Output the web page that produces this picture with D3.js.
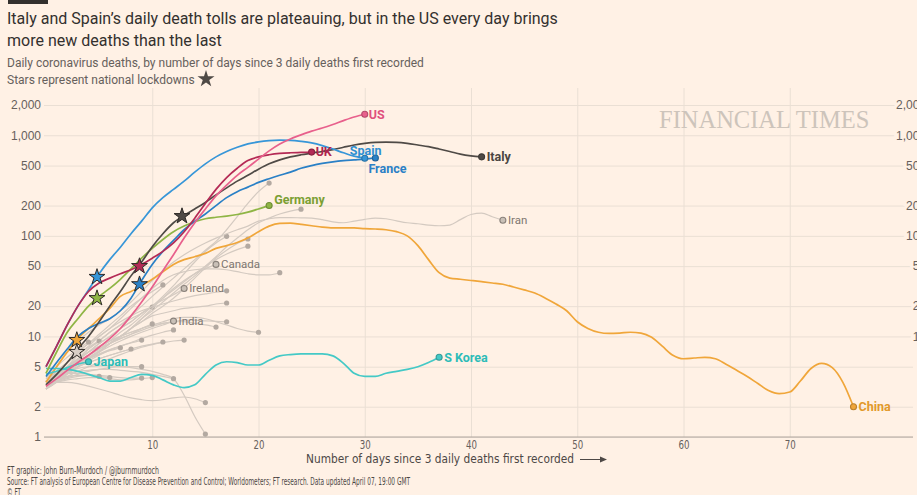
<!DOCTYPE html>
<html>
<head>
<meta charset="utf-8">
<script src="https://cdn.jsdelivr.net/npm/d3@7"></script>
<style>
  body { margin: 0; background: #fff1e5; }
  svg { display: block; font-family: Roboto, "Noto Sans", sans-serif; }
  .narrow { font-family: "Liberation Sans Narrow", "DejaVu Sans Condensed", Roboto, sans-serif; }
</style>
</head>
<body>
<svg class="chart" width="917" height="495"></svg>
<script>
// daily deaths, index = days since 3 daily deaths first recorded
const us = [3.2, 3.8, 4.6, 5.5, 6.5, 7.8, 9.5, 12, 16, 22, 31, 45, 65, 95, 135, 185, 250, 320, 400, 480, 580, 700, 820, 920, 1010, 1100, 1180, 1280, 1400, 1520, 1620]
const uk = [5, 8, 13, 20, 28, 34, 38, 42, 46, 52, 60, 70, 85, 110, 150, 210, 290, 380, 470, 560, 610, 640, 660, 670, 675, 680]
const spain = [5, 8, 13, 20, 29, 42, 58, 77, 105, 140, 190, 240, 290, 350, 430, 520, 610, 690, 760, 820, 860, 885, 895, 890, 870, 840, 790, 730, 670, 620, 590]
const france = [4, 5.5, 7.5, 10, 12, 13.5, 15, 18, 24, 36, 52, 70, 90, 115, 140, 165, 200, 240, 275, 305, 340, 370, 400, 430, 470, 500, 525, 545, 560, 570, 580, 595]
const italy = [3.3, 4.2, 5.5, 7.5, 10, 14, 20, 28, 40, 55, 78, 105, 135, 160, 185, 215, 255, 300, 350, 400, 460, 520, 570, 610, 640, 665, 690, 720, 760, 800, 830, 850, 855, 850, 830, 800, 770, 730, 690, 650, 625, 610]
const germany = [4.3, 7, 11, 15, 20, 25, 30, 37, 47, 60, 75, 92, 110, 125, 138, 148, 153, 157, 163, 172, 185, 200]
const china = [3.5, 5, 7, 9.5, 12, 15, 19, 25, 28, 32, 37, 44, 52, 58, 62, 67, 75, 80, 86, 95, 110, 125, 133, 134, 130, 126, 122, 120, 120, 120, 118, 117, 115, 110, 100, 80, 58, 43, 38, 37, 36, 35, 34, 33, 31, 29, 27, 24, 21, 18, 14, 12, 11, 10.7, 10.8, 11, 10.8, 9.8, 8, 6.5, 6, 6.1, 6.2, 6, 5.3, 4.6, 4, 3.4, 2.9, 2.7, 2.8, 3.6, 4.8, 5.4, 4.9, 3.5, 2]
const sKorea = [4.8, 4.8, 4.7, 4.5, 4.2, 3.9, 3.6, 3.6, 3.9, 4.2, 4.1, 3.7, 3.3, 3.1, 3.3, 4.2, 5.2, 5.6, 5.5, 5.2, 5.2, 5.8, 6.4, 6.6, 6.7, 6.7, 6.7, 6.4, 5.4, 4.3, 4.0, 4.0, 4.3, 4.5, 4.7, 5.0, 5.5, 6.2]
const japan = [4.2, 4.5, 4.9, 5.3, 5.6]
const iran = [3.5, 5, 7, 9, 11, 13, 15, 18, 22, 28, 36, 45, 55, 65, 75, 85, 95, 105, 115, 125, 140, 148, 152, 152, 151, 150, 145, 138, 135, 140, 146, 150, 148, 141, 135, 132, 128, 126, 128, 145, 163, 168, 155, 143]
const canada = [3, 3.6, 4.3, 5, 6, 7, 8.5, 10, 12, 15, 19, 24, 30, 36, 42, 47, 52]
const ireland = [3, 3.8, 4.7, 5.8, 7, 8.5, 10, 12, 14, 17, 20, 23, 26, 30]
const india = [3.3, 3.8, 4.5, 5.3, 6.2, 7, 8, 9, 10, 11, 12, 13, 14.2]

// unlabelled countries
const otherCountries = [
  [3.5, 4.2, 5, 6, 7.5, 9, 11, 13, 16, 20, 25, 31, 38, 47, 58, 72, 88, 115, 155, 210, 275, 335],
  [3, 3.5, 4.2, 5, 6, 7, 8.5, 10, 12, 15, 18, 22, 27, 33, 40, 50, 62, 78, 95, 115, 135, 150, 165, 176, 184],
  [3.2, 3.8, 4.5, 5.5, 6.5, 7.5, 9, 11, 13, 16, 20, 25, 32, 42, 55, 70, 85, 99],
  [3, 3.5, 4.2, 5, 6, 7, 8.5, 10, 12, 14, 17, 20, 24, 30, 38, 48, 60, 72, 84, 93],
  [3.4, 4, 4.8, 5.8, 7, 8.5, 10, 12, 14, 17, 20, 24, 29, 35, 42, 50, 58, 66, 73, 79],
  [3, 4, 5, 6.5, 8, 10, 12, 15, 19, 24, 30, 36, 41, 44, 46, 47, 47, 46, 44, 42, 41, 41, 43],
  [3.6, 4.5, 5.5, 7, 8.5, 10, 12, 14, 16, 18, 19.5, 21, 22.5, 24, 25.5, 26.5, 27.5, 28.4],
  [3.2, 3.8, 4.5, 5.3, 6.2, 7.2, 8.5, 10, 12, 14, 16, 17, 18, 19, 19.5, 20, 21, 21.5],
  [3.5, 4.2, 5, 6, 7, 8, 9, 10, 11, 12, 13, 13.5, 14, 14.5, 14.5, 14.3, 14.1, 14],
  [3.3, 4, 4.8, 5.6, 6.5, 7.5, 8.5, 9.5, 10.5, 11.5, 12.5, 13.5, 14, 14, 13.5, 13, 12.4],
  [3.4, 4.2, 5, 6, 7, 8, 9, 10, 11, 12, 13, 14, 15, 15.5, 15.5, 15, 14, 13, 12, 11.3, 11],
  [3.5, 4.5, 5.5, 7, 8.5, 10.5, 13, 16, 20, 24, 28, 32.5],
  [3, 3.8, 4.8, 6, 7.5, 9, 11, 13, 15, 17, 19.6],
  [3.3, 4, 4.8, 5.6, 6.5, 7.5, 8.5, 9.5, 10.5, 12, 13.3],
  [3.2, 3.7, 4.3, 5, 5.7, 6.5, 7.3, 8, 8.7, 9.5, 10.3, 11, 11.6],
  [3.5, 4, 4.5, 5, 5.5, 6, 6.5, 7, 7.5, 8, 8.4, 8.7, 9, 9.2],
  [3.2, 3.6, 4, 4.5, 5, 5.5, 6, 6.6, 7.2, 7.8, 8.3, 8.8],
  [3.6, 4.2, 4.8, 5.4, 6, 6.7, 7.4, 8, 8.6, 9.2],
  [3.4, 3.9, 4.4, 5, 5.5, 6, 6.5, 7, 7.5],
  [3.8, 4.3, 4.8, 5.4, 6, 6.6, 7.2, 7.7],
  [3.5, 4.5, 5.5, 6.5, 7.8, 9],
  [3.8, 5, 6.2, 7.5, 8.8],
  [3.3, 3.6, 3.9, 4.2, 4.5, 4.7, 4.9, 5, 5, 5],
  [3.6, 4, 4.3, 4.5, 4.6, 4.7, 4.7, 4.6, 4.5, 4.4, 4.2, 4, 3.8],
  [3.3, 3.5, 3.7, 3.8, 3.9, 3.9, 3.8, 3.7, 3.7, 3.8, 3.9],
  [4, 4.2, 4.3, 4.3, 4.2, 4.1, 4, 3.9, 3.85, 3.85],
  [3.5, 3.8, 4, 4.1, 4.1, 4, 3.9],
  [3.2, 3.5, 3.8, 4, 4.1, 4],
  [3.4, 3.5, 3.5, 3.4, 3.2, 3, 2.8, 2.6, 2.45, 2.35, 2.3, 2.35, 2.45, 2.5, 2.4, 2.2],
  [3.6, 4, 4.4, 4.8, 5, 5.1, 5.1, 5, 4.9, 4.7, 4.5, 4.2, 3.8, 2.6, 1.6, 1.07],
]

// national lockdowns: day, deaths that day
const lockdownDays = [2.9, 2.9, 4.8, 4.8, 8.8, 8.8, 12.8]
const lockdownValues = [7, 9.2, 24, 39, 33, 50, 157]
const lockdownCountries = ['other', 'China', 'Germany', 'Spain', 'France', 'UK', 'Italy']

const yTicks = [1, 2, 5, 10, 20, 50, 100, 200, 500, 1000, 2000]
const xTicks = [10, 20, 30, 40, 50, 60, 70]

const colors = {
  US: '#e8608c', UK: '#b42a55', Spain: '#3796d8', France: '#2a80c6', Italy: '#4f4a46',
  Germany: '#8fb545', China: '#f0a63a', 'S Korea': '#44c9c6', Japan: '#44c9c6', other: '#d9cfc6',
}
const labelColors = {
  US: '#e0507e', UK: '#b0244e', Spain: '#2f8fd2', France: '#2a80c6', Italy: '#4a4542',
  Germany: '#7b9f33', China: '#e2992a', 'S Korea': '#2cbcb8', Japan: '#2cbcb8',
}

const labelled = [
  { name: 'Iran', values: iran, grey: true, dx: 5, dy: 0 },
  { name: 'Canada', values: canada, grey: true, dx: 5, dy: 0 },
  { name: 'Ireland', values: ireland, grey: true, dx: 5, dy: 0 },
  { name: 'India', values: india, grey: true, dx: 5, dy: 0 },
  { name: 'China', values: china, dx: 5, dy: 0 },
  { name: 'S Korea', values: sKorea, dx: 5, dy: 0 },
  { name: 'Japan', values: japan, dx: 5, dy: 0 },
  { name: 'Germany', values: germany, dx: 5, dy: -6 },
  { name: 'France', values: france, dx: -7, dy: 11 },
  { name: 'Italy', values: italy, dx: 5, dy: 0 },
  { name: 'Spain', values: spain, dx: -15, dy: -8 },
  { name: 'UK', values: uk, dx: 4, dy: 0 },
  { name: 'US', values: us, dx: 4, dy: 0 },
]

const svg = d3.select('.chart')
const x = d3.scaleLinear().domain([0, 81.6]).range([46, 913])
const y = d3.scaleLog().domain([1, 2000]).range([437, 105])

const line = d3.line()
  .x((d, i) => x(i))
  .y(d => y(d))
  .curve(d3.curveMonotoneX)

// header
svg.append('rect').attr('x', 8).attr('y', 0).attr('width', 40).attr('height', 4).attr('fill', '#33302e')
svg.append('text').attr('x', 7).attr('y', 24).attr('font-size', 16).attr('fill', '#33302e')
  .text('Italy and Spain\u2019s daily death tolls are plateauing, but in the US every day brings')
svg.append('text').attr('x', 7).attr('y', 46).attr('font-size', 16).attr('fill', '#33302e')
  .text('more new deaths than the last')
svg.append('text').attr('x', 7).attr('y', 67).attr('font-size', 12).attr('fill', '#66605c')
  .text('Daily coronavirus deaths, by number of days since 3 daily deaths first recorded')
svg.append('text').attr('x', 7).attr('y', 84).attr('font-size', 12).attr('fill', '#66605c')
  .text('Stars represent national lockdowns')
svg.append('path')
  .attr('d', d3.symbol(d3.symbolStar, 90)())
  .attr('transform', 'translate(206,79)')
  .attr('fill', '#4f4a46')

// grid + axes
svg.append('g')
  .attr('transform', 'translate(0,437)')
  .call(d3.axisBottom(x).tickValues(xTicks).tickSize(-(437 - 88)).tickPadding(3))
  .call(g => g.select('.domain').remove())
  .call(g => g.selectAll('line').attr('stroke', '#eadfd4'))
  .call(g => g.selectAll('text').attr('class', 'narrow').attr('font-size', 12.5).attr('fill', '#66605c')
    .attr('textLength', 11).attr('lengthAdjust', 'spacingAndGlyphs'))

svg.append('g')
  .attr('transform', 'translate(44,0)')
  .call(d3.axisLeft(y).tickValues(yTicks).tickFormat(d3.format(',')).tickSize(-(913 - 44)).tickPadding(3))
  .call(g => g.select('.domain').remove())
  .call(g => g.selectAll('line').attr('stroke', '#eadfd4'))
  .call(g => g.selectAll('text').attr('font-size', 12).attr('fill', '#66605c'))

svg.append('text')
  .attr('x', 659).attr('y', 128)
  .attr('font-family', '"Liberation Serif", "DejaVu Serif", serif')
  .attr('font-size', 24.5).attr('fill', '#cdc4bb')
  .text('FINANCIAL TIMES')

svg.append('g')
  .attr('transform', 'translate(926,0)')
  .call(d3.axisLeft(y).tickValues(yTicks).tickFormat(d3.format(',')).tickSize(0).tickPadding(0))
  .call(g => g.select('.domain').remove())
  .call(g => g.selectAll('text').attr('font-size', 12).attr('fill', '#66605c')
    .attr('stroke', '#fff1e5').attr('stroke-width', 6).attr('paint-order', 'stroke'))

svg.append('line').attr('x1', 44).attr('x2', 913).attr('y1', y(1)).attr('y2', y(1))
  .attr('stroke', '#b0a69d').attr('stroke-width', 1.2)

// lines
const plot = svg.append('g').attr('fill', 'none')

plot.selectAll('.other')
  .data(otherCountries)
  .join('path')
  .attr('d', line)
  .attr('stroke', '#d4cac1')
  .attr('stroke-width', 1.2)

plot.selectAll('.other-dot')
  .data(otherCountries)
  .join('circle')
  .attr('cx', d => x(d.length - 1))
  .attr('cy', d => y(d[d.length - 1]))
  .attr('r', 2.6)
  .attr('fill', '#b3a9a1')

const series = plot.selectAll('.series')
  .data(labelled)
  .join('g')

series.append('path')
  .attr('d', d => line(d.values))
  .attr('stroke', d => (d.grey ? '#d4cac1' : colors[d.name]))
  .attr('stroke-width', d => (d.grey ? 1.2 : 1.7))

// lockdown stars
svg.append('g').selectAll('path')
  .data(lockdownDays)
  .join('path')
  .attr('d', d3.symbol(d3.symbolStar, 78)())
  .attr('transform', (d, i) => `translate(${x(d)},${y(lockdownValues[i])})`)
  .attr('fill', (d, i) => colors[lockdownCountries[i]])
  .attr('stroke', '#2f2b28')
  .attr('stroke-width', 1)

// end dots and labels
const ends = svg.append('g').selectAll('g')
  .data(labelled)
  .join('g')
  .attr('transform', d => `translate(${x(d.values.length - 1)},${y(d.values[d.values.length - 1])})`)

ends.append('circle')
  .attr('r', 3)
  .attr('fill', d => (d.grey ? '#c9c0b7' : colors[d.name]))
  .attr('stroke', d => (d.grey ? '#8a827b' : d3.color(colors[d.name]).darker(0.7)))
  .attr('stroke-width', 1.1)

ends.append('text')
  .attr('x', d => d.dx)
  .attr('y', d => d.dy)
  .attr('dy', '0.35em')
  .attr('font-size', d => (d.grey ? 11.5 : 12.5))
  .attr('font-weight', d => (d.grey ? 400 : 700))
  .attr('fill', d => (d.grey ? '#7d7670' : labelColors[d.name]))
  .text(d => d.name)

// axis title + footer (condensed, squeezed to the reference widths)
svg.append('text').attr('class', 'narrow').attr('x', 306).attr('y', 463)
  .attr('font-size', 12.5).attr('fill', '#4d4845')
  .attr('textLength', 268).attr('lengthAdjust', 'spacingAndGlyphs')
  .text('Number of days since 3 daily deaths first recorded')
svg.append('path').attr('d', 'M580,459.5H601').attr('stroke', '#4d4845').attr('stroke-width', 1)
svg.append('path').attr('d', 'M600,456.5L607,459.5L600,462.5Z').attr('fill', '#4d4845')

const footer = [
  'FT graphic: John Burn-Murdoch / @jburnmurdoch',
  'Source: FT analysis of European Centre for Disease Prevention and Control; Worldometers; FT research. Data updated April 07, 19:00 GMT',
  '\u00a9 FT',
]
const footerWidths = [152, 403, 14]
svg.append('g').selectAll('text')
  .data(footer)
  .join('text')
  .attr('class', 'narrow')
  .attr('x', 7)
  .attr('y', (d, i) => 474 + i * 11)
  .attr('font-size', 10.5)
  .attr('fill', '#4d4845')
  .attr('textLength', (d, i) => footerWidths[i])
  .attr('lengthAdjust', 'spacingAndGlyphs')
  .text(d => d)
</script>
</body>
</html>
